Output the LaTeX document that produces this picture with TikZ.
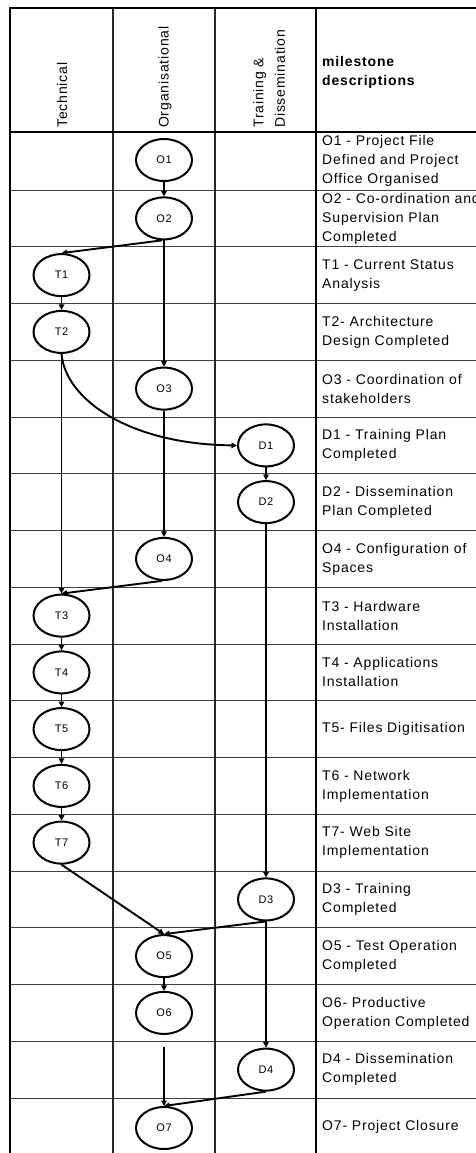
\documentclass[tikz,border=0pt]{standalone}
\usepackage{fontspec}
\setmainfont{Liberation Sans}[LetterSpace=6]
\usetikzlibrary{arrows.meta,shapes.geometric}
\begin{document}
\begin{tikzpicture}[x=1pt,y=-1pt,
  frame/.style={line width=2.2pt, black},
  colline/.style={line width=1.3pt, black!85},
  rowline/.style={line width=1pt, black!75},
  ms/.style={draw, ellipse, line width=2pt, minimum width=56pt, minimum height=42pt,
    inner sep=0pt, font=\fontsize{11}{12}\selectfont},
  desc/.style={anchor=west, align=left, inner sep=0pt, font=\fontsize{14}{19}\selectfont},
  head/.style={rotate=90, anchor=west, align=left, inner sep=0pt, font=\fontsize{14}{21.5}\selectfont},
  link/.style={-{Triangle[length=5.5pt,width=5.5pt]}, line width=1.9pt},
]
\useasboundingbox (0,0) rectangle (476,1153);
\clip (0,0) rectangle (476,1153);
\fill[white] (0,0) rectangle (476,1153);

% grid of the table
\foreach \k in {0,...,16}
  \draw[rowline] (10,{190+56.75*\k}) -- (480,{190+56.75*\k});
\draw[colline] (113,8) -- (113,1160);
\draw[colline] (215,8) -- (215,1160);
\draw[frame] (10,1160) -- (10,8) -- (480,8);
\draw[frame] (10,132) -- (480,132);
\draw[line width=2.5pt] (316,8) -- (316,1160);

% column headings
\node[head] (h1) at (62,128) {Technical};
\node[head] (h2) at (165,128) {Organisational};
\node[head] (h3) at (269,128) {Training \&\\Dissemination};
\node[desc, font=\fontsize{14}{19}\bfseries] (h4) at (322,72) {milestone\\descriptions};

% milestones
\node[ms] (O1) at (164,160)    {O1};
\node[ms] (O2) at (164,218.4)  {O2};
\node[ms] (T1) at (61.5,275.1) {T1};
\node[ms] (T2) at (61.5,331.9) {T2};
\node[ms] (O3) at (164,388.6)  {O3};
\node[ms] (D1) at (266,445.4)  {D1};
\node[ms] (D2) at (266,502.1)  {D2};
\node[ms] (O4) at (164,558.9)  {O4};
\node[ms] (T3) at (61.5,615.6) {T3};
\node[ms] (T4) at (61.5,672.4) {T4};
\node[ms] (T5) at (61.5,729.1) {T5};
\node[ms] (T6) at (61.5,785.9) {T6};
\node[ms] (T7) at (61.5,842.6) {T7};
\node[ms] (D3) at (266,899.4)  {D3};
\node[ms] (O5) at (164,956.1)  {O5};
\node[ms] (O6) at (164,1012.9) {O6};
\node[ms] (D4) at (266,1069.6) {D4};
\node[ms] (O7) at (164,1128)   {O7};

% milestone descriptions
\node[desc] (d1)  at (322,161)    {O1 - Project File\\Defined and Project\\Office Organised};
\node[desc] (d2)  at (322,218.4)  {O2 - Co-ordination and\\Supervision Plan\\Completed};
\node[desc] (d3)  at (322,275.1)  {T1 - Current Status\\Analysis};
\node[desc] (d4)  at (322,331.9)  {T2- Architecture\\Design Completed};
\node[desc] (d5)  at (322,388.6)  {O3 - Coordination of\\stakeholders};
\node[desc] (d6)  at (322,445.4)  {D1 - Training Plan\\Completed};
\node[desc] (d7)  at (322,502.1)  {D2 - Dissemination\\Plan Completed};
\node[desc] (d8)  at (322,558.9)  {O4 - Configuration of\\Spaces};
\node[desc] (d9)  at (322,615.6)  {T3 - Hardware\\Installation};
\node[desc] (d10) at (322,672.4)  {T4 - Applications\\Installation};
\node[desc] (d11) at (322,729.1)  {T5- Files Digitisation};
\node[desc] (d12) at (322,785.9)  {T6 - Network\\Implementation};
\node[desc] (d13) at (322,842.6)  {T7- Web Site\\Implementation};
\node[desc] (d14) at (322,899.4)  {D3 - Training\\Completed};
\node[desc] (d15) at (322,956.1)  {O5 - Test Operation\\Completed};
\node[desc] (d16) at (322,1012.9) {O6- Productive\\Operation Completed};
\node[desc] (d17) at (322,1069.6) {D4 - Dissemination\\Completed};
\node[desc] (d18) at (322,1126.4) {O7- Project Closure};

% dependencies
\draw[link] (O1) -- (O2);
\draw[link] (O2.265) -- (T1.north);
\draw[link] (O2) -- (O3);
\draw[link] (T1) -- (T2);
\draw[link] (T2.south) .. controls +(4,46) and +(-107,-1) .. (D1.west);
\draw[link] (T2) -- (T3);
\draw[link] (O3) -- (O4);
\draw[link] (D1) -- (D2);
\draw[link] (D2) -- (D3);
\draw[link] (O4.265) -- (T3.north);
\draw[link] (T3) -- (T4);
\draw[link] (T4) -- (T5);
\draw[link] (T5) -- (T6);
\draw[link] (T6) -- (T7);
\draw[link] (T7.south) -- (O5.north);
\draw[link] (D3.south) -- (O5.north);
\draw[link] (O5) -- (O6);
\draw[link, shorten <=12pt] (O6) -- (O7);
\draw[link] (D3) -- (D4);
\draw[link] (D4.south) -- (O7.north);
\end{tikzpicture}
\end{document}
